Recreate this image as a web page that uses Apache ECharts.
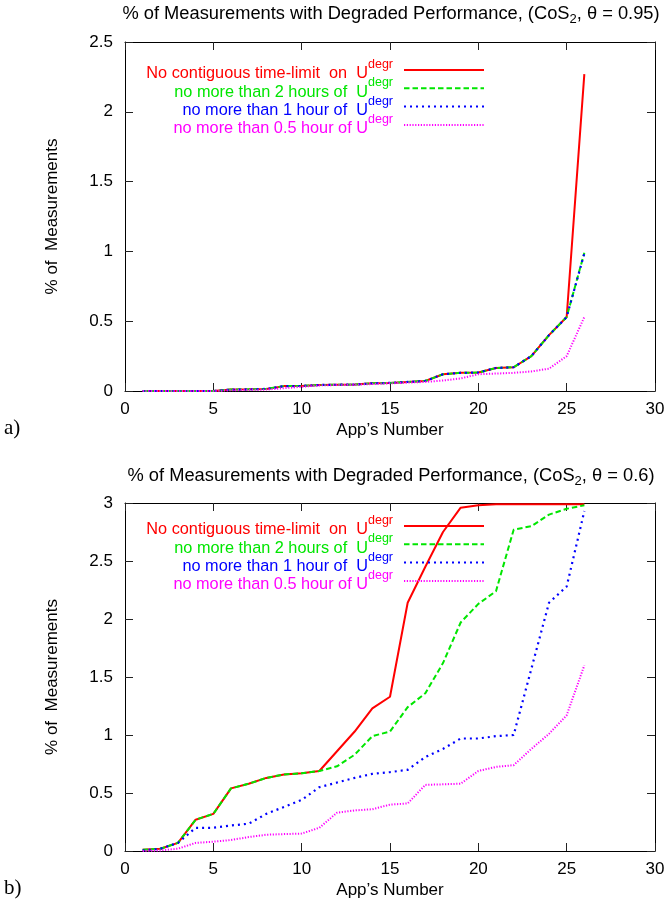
<!DOCTYPE html>
<html><head><meta charset="utf-8">
<script src="https://cdn.jsdelivr.net/npm/echarts@6/dist/echarts.min.js"></script>
<style>html,body{margin:0;padding:0;background:#fff}#c{width:669px;height:911px}</style>
</head><body><div id="c"></div>
<script>
// ---- data ----
const apps = [1,2,3,4,5,6,7,8,9,10,11,12,13,14,15,16,17,18,19,20,21,22,23,24,25,26];
const seriesNames = [
  'No contiguous time-limit  on  U',
  'no more than 2 hours of  U',
  'no more than 1 hour of  U',
  'no more than 0.5 hour of U'
];
// (a) CoS2, theta = 0.95
const a_noLimit = [0,0,0,0,0,0.01,0.012,0.015,0.035,0.036,0.043,0.045,0.046,0.055,0.058,0.065,0.072,0.12,0.13,0.132,0.165,0.17,0.25,0.4,0.53,2.27];
const a_2h      = [0,0,0,0,0,0.01,0.012,0.015,0.035,0.036,0.043,0.045,0.046,0.055,0.058,0.065,0.072,0.12,0.13,0.132,0.165,0.17,0.25,0.4,0.53,0.99];
const a_1h      = [0,0,0,0,0,0.01,0.012,0.015,0.035,0.036,0.043,0.045,0.046,0.055,0.058,0.065,0.072,0.12,0.13,0.132,0.165,0.17,0.25,0.4,0.53,0.985];
const a_05h     = [0,0,0,0,0,0.005,0.008,0.01,0.02,0.03,0.04,0.043,0.045,0.05,0.055,0.06,0.065,0.075,0.09,0.12,0.125,0.13,0.14,0.16,0.25,0.53];
// (b) CoS2, theta = 0.6
const b_noLimit = [0.01,0.02,0.07,0.27,0.32,0.54,0.58,0.63,0.66,0.67,0.69,0.86,1.03,1.23,1.33,2.14,2.45,2.75,2.96,2.98,2.99,2.99,2.99,2.99,2.99,2.99];
const b_2h      = [0.01,0.02,0.07,0.27,0.32,0.54,0.58,0.63,0.66,0.67,0.69,0.73,0.83,0.99,1.03,1.24,1.36,1.62,1.97,2.13,2.24,2.77,2.8,2.9,2.95,2.98];
const b_1h      = [0.005,0.02,0.07,0.2,0.2,0.22,0.235,0.32,0.38,0.44,0.55,0.59,0.63,0.665,0.68,0.7,0.81,0.88,0.97,0.97,0.99,1.0,1.57,2.14,2.28,2.93];
const b_05h     = [0,0.005,0.02,0.07,0.08,0.095,0.12,0.14,0.146,0.15,0.2,0.33,0.35,0.36,0.4,0.41,0.57,0.575,0.58,0.69,0.725,0.74,0.88,1.01,1.17,1.6];

// ---- styles ----
const FONT = '"Liberation Sans", Arial, sans-serif';
const colors = ['#ff0000', '#00e600', '#0000ff', '#ff00ff'];
const keys = ['r','g','b','m'];
const dashes = ['solid', [5.5,3], [2,4], [1.2,1.6]];
const widths = [2, 2, 2.2, 2];

const chart = echarts.init(document.getElementById('c'), null, {renderer:'canvas'});

function mkSeries(gi, arrs) {
  return arrs.map((vals, k) => ({
    type: 'line',
    name: seriesNames[k],
    xAxisIndex: gi*2, yAxisIndex: gi*2,
    symbol: 'none',
    animation: false,
    lineStyle: {color: colors[k], width: widths[k], type: dashes[k]},
    itemStyle: {color: colors[k]},
    data: apps.map((a, i) => [a, vals[i]])
  }));
}

const rich = {};
keys.forEach((k, i) => {
  rich[k + 't'] = {color: colors[i], fontSize: 16.3, fontFamily: FONT, lineHeight: 24, verticalAlign: 'bottom'};
  rich[k + 's'] = {color: colors[i], fontSize: 12.5, fontFamily: FONT, lineHeight: 10, verticalAlign: 'top', padding: [0, 6, 0, 0]};
});

function mkLegend(top) {
  return {
    data: seriesNames,
    orient: 'vertical', align: 'right',
    right: 184, top: top, padding: 0,
    itemWidth: 80, itemHeight: 14, itemGap: -5.7,
    selectedMode: false,
    itemStyle: {opacity: 0, color: 'rgba(0,0,0,0)', borderWidth: 0},
    textStyle: {rich: rich},
    formatter: function (name) {
      const k = keys[seriesNames.indexOf(name)];
      return '{' + k + 't|' + name + '}{' + k + 's|degr}';
    }
  };
}

function mkX(gi, pos) {
  const bottom = pos === 'bottom';
  return {
    gridIndex: gi, type: 'value', position: pos, min: 0, max: 30, interval: 5,
    axisLine: {show: true, onZero: false, lineStyle: {color: '#000', width: 1}},
    axisTick: {show: true, inside: true, length: 8, lineStyle: {color: '#222'}},
    axisLabel: {show: bottom, fontSize: 17, color: '#000', fontFamily: FONT, margin: 10},
    splitLine: {show: false},
    name: bottom ? 'App\u2019s Number' : '', nameLocation: 'middle', nameGap: 31,
    nameTextStyle: {fontSize: 17, color: '#000', fontFamily: FONT}
  };
}
function mkY(gi, pos, max) {
  const left = pos === 'left';
  return {
    gridIndex: gi, type: 'value', position: pos, min: 0, max: max, interval: 0.5,
    axisLine: {show: true, onZero: false, lineStyle: {color: '#000', width: 1}},
    axisTick: {show: true, inside: true, length: 8, lineStyle: {color: '#222'}},
    axisLabel: {show: left, fontSize: 17, color: '#000', fontFamily: FONT, margin: 12},
    splitLine: {show: false},
    name: left ? '% of  Measurements' : '', nameLocation: 'middle', nameGap: 64,
    nameTextStyle: {fontSize: 17, color: '#000', fontFamily: FONT}
  };
}

const titleRich = {
  m: {fontSize: 18.3, fontWeight: 'normal', fontFamily: FONT, color: '#000', lineHeight: 21, verticalAlign: 'top'},
  sub: {fontSize: 13, fontWeight: 'normal', fontFamily: FONT, color: '#000', lineHeight: 12, verticalAlign: 'bottom'}
};

const option = {
  backgroundColor: '#fff',
  animation: false,
  title: [
    {text: '{m|% of Measurements with Degraded Performance, (CoS}{sub|2}{m|, \u03b8 = 0.95)}', left: 391, top: 5, padding: 0, textAlign: 'center', textStyle: {fontWeight: 'normal', rich: titleRich}},
    {text: '{m|% of Measurements with Degraded Performance, (CoS}{sub|2}{m|, \u03b8 = 0.6)}', left: 391, top: 467, padding: 0, textAlign: 'center', textStyle: {fontWeight: 'normal', rich: titleRich}},
    {text: 'a)', left: 4, top: 418, padding: 0, textStyle: {fontSize: 21, fontWeight: 'normal', fontFamily: '"Liberation Serif", serif', color: '#000'}},
    {text: 'b)', left: 4, top: 878, padding: 0, textStyle: {fontSize: 21, fontWeight: 'normal', fontFamily: '"Liberation Serif", serif', color: '#000'}}
  ],
  legend: [mkLegend(58), mkLegend(514)],
  grid: [
    {left: 125, top: 42, width: 530, height: 349},
    {left: 125, top: 503, width: 530, height: 348}
  ],
  xAxis: [mkX(0,'bottom'), mkX(0,'top'), mkX(1,'bottom'), mkX(1,'top')],
  yAxis: [mkY(0,'left',2.5), mkY(0,'right',2.5), mkY(1,'left',3), mkY(1,'right',3)],
  series: [].concat(
    mkSeries(0, [a_noLimit, a_2h, a_1h, a_05h]),
    mkSeries(1, [b_noLimit, b_2h, b_1h, b_05h])
  )
};
chart.setOption(option);
</script>
</body></html>
